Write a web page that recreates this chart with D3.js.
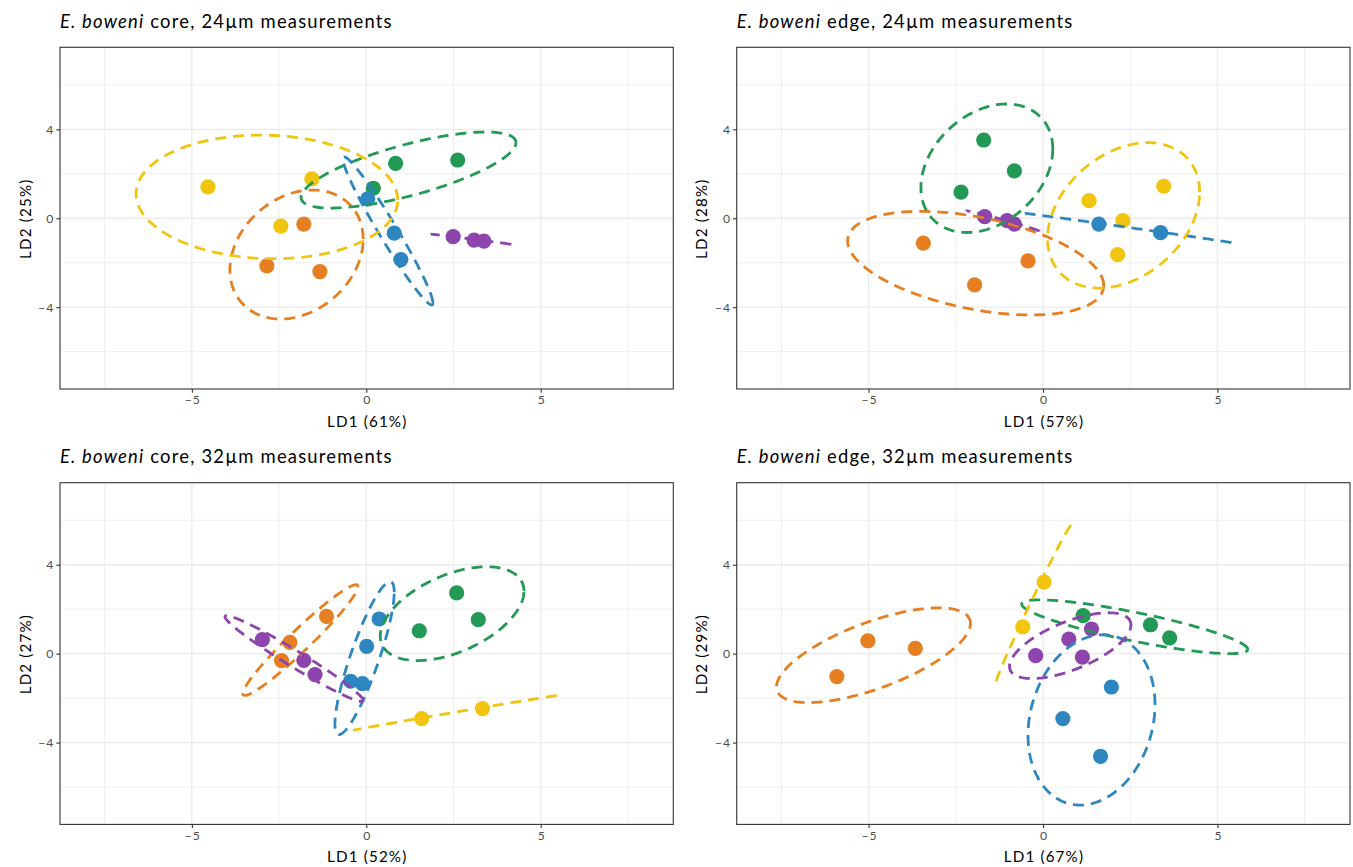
<!DOCTYPE html>
<html><head><meta charset="utf-8">
<script src="https://cdn.jsdelivr.net/npm/d3@7"></script>
<style>
body{margin:0;background:#fff;}
text{font-family:Lato,"Open Sans",sans-serif;}
</style>
</head><body>
<svg id="chart" width="1353" height="867"></svg>
<script>
// ---------- data ----------
const groupNames  = ["orange","green","blue","purple","yellow"];
const groupColors = ["#E67E22","#229954","#2E86C1","#8E44AD","#F1C40F"];

const titleItalic = ["E. boweni","E. boweni","E. boweni","E. boweni"];
const titleRest   = [" core, 24\u00B5m measurements"," edge, 24\u00B5m measurements",
                     " core, 32\u00B5m measurements"," edge, 32\u00B5m measurements"];
const xAxisTitles = ["LD1 (61%)","LD1 (57%)","LD1 (52%)","LD1 (67%)"];
const yAxisTitles = ["LD2 (25%)","LD2 (28%)","LD2 (27%)","LD2 (29%)"];

const xTicks = [-5,0,5];
const yTicks = [-4,0,4];
const xMinorTicks = [-7.5,-2.5,2.5,7.5];
const yMinorTicks = [-6,-2,2,6];
const xDomain = [-8.78, 8.80];
const yDomain = [-7.68, 7.69];

// points: [group, LD1, LD2]
const pointsCore24 = [
  ["orange",-1.79,-0.26],["orange",-2.85,-2.14],["orange",-1.33,-2.40],
  ["green",0.20,1.35],["green",0.84,2.47],["green",2.62,2.62],
  ["blue",0.04,0.87],["blue",0.80,-0.67],["blue",0.99,-1.86],
  ["purple",2.49,-0.83],["purple",3.09,-0.98],["purple",3.37,-1.03],
  ["yellow",-4.54,1.41],["yellow",-1.56,1.77],["yellow",-2.45,-0.35]
];
const pointsEdge24 = [
  ["orange",-3.43,-1.12],["orange",-1.96,-3.00],["orange",-0.43,-1.92],
  ["green",-1.70,3.52],["green",-0.82,2.13],["green",-2.35,1.18],
  ["blue",1.60,-0.26],["blue",3.37,-0.65],
  ["purple",-1.67,0.07],["purple",-1.03,-0.11],["purple",-0.82,-0.26],
  ["yellow",1.32,0.79],["yellow",2.29,-0.11],["yellow",3.46,1.44],["yellow",2.14,-1.64]
];
const pointsCore32 = [
  ["orange",-1.14,1.68],["orange",-2.19,0.51],["orange",-2.43,-0.31],
  ["green",2.59,2.73],["green",3.21,1.53],["green",1.52,1.03],
  ["blue",0.37,1.56],["blue",0.01,0.33],["blue",-0.45,-1.24],["blue",-0.11,-1.35],
  ["purple",-2.98,0.63],["purple",-1.79,-0.30],["purple",-1.47,-0.94],
  ["yellow",1.59,-2.92],["yellow",3.33,-2.47]
];
const pointsEdge32 = [
  ["orange",-5.91,-1.03],["orange",-5.02,0.58],["orange",-3.66,0.24],
  ["green",1.15,1.71],["green",3.08,1.30],["green",3.63,0.71],
  ["blue",1.96,-1.50],["blue",0.57,-2.92],["blue",1.65,-4.62],
  ["purple",-0.21,-0.09],["purple",0.74,0.65],["purple",1.13,-0.16],["purple",1.39,1.11],
  ["yellow",0.03,3.22],["yellow",-0.58,1.21]
];

// ellipses: [group, centre LD1, centre LD2, half-range LD1, half-range LD2, correlation]
const ellipsesCore24 = [
  ["orange",-2.00,-1.63,1.91,2.90,0.24],
  ["green",1.21,2.17,3.08,1.71,0.72],
  ["blue",0.62,-0.57,1.29,3.33,-0.972],
  ["purple",3.00,-0.95,1.15,0.23,-0.995],
  ["yellow",-2.85,0.96,3.75,2.78,-0.05]
];
const ellipsesEdge24 = [
  ["orange",-1.93,-2.02,3.67,2.33,-0.43],
  ["green",-1.61,2.25,1.89,2.89,0.30],
  ["blue",2.44,-0.44,2.96,0.66,-0.999],
  ["purple",-1.15,-0.13,1.05,0.46,-0.99],
  ["yellow",2.31,0.13,2.18,3.27,0.32]
];
const ellipsesCore32 = [
  ["orange",-1.89,0.61,1.65,2.49,0.965],
  ["green",2.46,1.80,2.06,2.11,0.48],
  ["blue",-0.05,-0.20,0.85,3.44,0.86],
  ["purple",-2.07,-0.22,1.98,1.93,-0.975],
  ["yellow",2.54,-2.67,2.92,0.78,0.999]
];
const ellipsesEdge32 = [
  ["orange",-4.86,-0.07,2.78,2.13,0.67],
  ["green",2.63,1.21,3.24,1.21,-0.84],
  ["blue",1.39,-2.98,1.82,3.83,0.18],
  ["purple",0.78,0.36,1.74,1.48,0.63],
  ["yellow",-0.28,2.18,1.08,3.56,0.995]
];

const panelPoints   = [pointsCore24, pointsEdge24, pointsCore32, pointsEdge32];
const panelEllipses = [ellipsesCore24, ellipsesEdge24, ellipsesCore32, ellipsesEdge32];

// ---------- layout ----------
const panelBoxes = [
  {left:60,  top:47.3, w:613.3, h:341.7},
  {left:736.7, top:47.3, w:613.3, h:341.7},
  {left:60,  top:482.7, w:613.3, h:341.7},
  {left:736.7, top:482.7, w:613.3, h:341.7}
];

const color = d3.scaleOrdinal().domain(groupNames).range(groupColors);
const svg = d3.select("#chart");
const minus = v => (v < 0 ? "\u2212" + Math.abs(v) : String(v));

panelBoxes.forEach((b, i) => {
  const x = d3.scaleLinear().domain(xDomain).range([b.left, b.left + b.w]);
  const y = d3.scaleLinear().domain(yDomain).range([b.top + b.h, b.top]);
  const g = svg.append("g");

  g.append("rect").attr("x", b.left).attr("y", b.top).attr("width", b.w).attr("height", b.h)
    .attr("fill", "#fff");

  // grid
  const grid = g.append("g");
  grid.selectAll(".xminor").data(xMinorTicks).join("line")
    .attr("x1", d => x(d)).attr("x2", d => x(d)).attr("y1", b.top).attr("y2", b.top + b.h)
    .attr("stroke", "#ebebeb").attr("stroke-width", 0.8);
  grid.selectAll(".yminor").data(yMinorTicks).join("line")
    .attr("y1", d => y(d)).attr("y2", d => y(d)).attr("x1", b.left).attr("x2", b.left + b.w)
    .attr("stroke", "#ebebeb").attr("stroke-width", 0.8);
  grid.selectAll(".xmajor").data(xTicks).join("line")
    .attr("x1", d => x(d)).attr("x2", d => x(d)).attr("y1", b.top).attr("y2", b.top + b.h)
    .attr("stroke", "#ebebeb").attr("stroke-width", 1.3);
  grid.selectAll(".ymajor").data(yTicks).join("line")
    .attr("y1", d => y(d)).attr("y2", d => y(d)).attr("x1", b.left).attr("x2", b.left + b.w)
    .attr("stroke", "#ebebeb").attr("stroke-width", 1.3);

  const clipId = "clip" + i;
  svg.append("clipPath").attr("id", clipId).append("rect")
    .attr("x", b.left).attr("y", b.top).attr("width", b.w).attr("height", b.h);
  const plot = g.append("g").attr("clip-path", `url(#${clipId})`);

  // points
  plot.selectAll("circle").data(panelPoints[i]).join("circle")
    .attr("cx", d => x(d[1])).attr("cy", d => y(d[2])).attr("r", 7.6)
    .attr("fill", d => color(d[0]));

  // ellipses (near-degenerate ones collapse to a single dashed segment)
  const line = d3.line().x(p => x(p[0])).y(p => y(p[1]));
  plot.selectAll("path.ell").data(panelEllipses[i]).join("path")
    .attr("class", "ell")
    .attr("d", d => {
      const [, cx, cy, sx, sy, rho] = d;
      const phi = Math.acos(rho);
      const end = Math.abs(rho) >= 0.99 ? 180 : 360;
      const steps = d3.range(0, end + 0.001, 1.8);
      return line(steps.map(a => {
        const t = a * Math.PI / 180;
        return [cx + sx * Math.cos(t), cy + sy * Math.cos(t - phi)];
      }));
    })
    .attr("fill", "none").attr("stroke", d => color(d[0]))
    .attr("stroke-width", 2.8).attr("stroke-dasharray", "11,7");

  // border
  g.append("rect").attr("x", b.left).attr("y", b.top).attr("width", b.w).attr("height", b.h)
    .attr("fill", "none").attr("stroke", "#333").attr("stroke-width", 1.1);

  // axes
  const xAxis = d3.axisBottom(x).tickValues(xTicks).tickSize(3.7).tickPadding(3).tickFormat(minus);
  const yAxis = d3.axisLeft(y).tickValues(yTicks).tickSize(3.7).tickPadding(3).tickFormat(minus);
  const gx = g.append("g").attr("transform", `translate(0,${b.top + b.h})`).call(xAxis);
  const gy = g.append("g").attr("transform", `translate(${b.left},0)`).call(yAxis);
  [gx, gy].forEach(ax => {
    ax.select(".domain").remove();
    ax.selectAll(".tick line").attr("stroke", "#333").attr("stroke-width", 1.1);
    ax.selectAll(".tick text").attr("fill", "#4d4d4d").attr("font-size", "12.2px")
      .attr("letter-spacing", "0.85px").attr("font-family", "Lato, sans-serif");
  });
  gx.selectAll(".tick text").attr("dx", "0.4px");
  gy.selectAll(".tick text").attr("dx", "0.85px");

  // axis titles
  g.append("text").attr("x", b.left + b.w / 2 + 0.6).attr("y", b.top + b.h + 38)
    .attr("text-anchor", "middle").attr("font-size", "15.2px").attr("fill", "#000")
    .attr("letter-spacing", "1.15px")
    .text(xAxisTitles[i]);
  g.append("text")
    .attr("transform", `translate(${b.left - 29.5},${b.top + b.h / 2 + 0.6}) rotate(-90)`)
    .attr("text-anchor", "middle").attr("font-size", "15.2px").attr("fill", "#000")
    .attr("letter-spacing", "1.15px")
    .text(yAxisTitles[i]);

  // title
  const t = g.append("text").attr("x", b.left).attr("y", b.top - 19.5)
    .attr("font-size", "18.4px").attr("fill", "#000").attr("letter-spacing", "1.2px");
  t.append("tspan").attr("font-style", "italic").text(titleItalic[i]);
  t.append("tspan").text(titleRest[i]);
});
</script>
</body></html>
